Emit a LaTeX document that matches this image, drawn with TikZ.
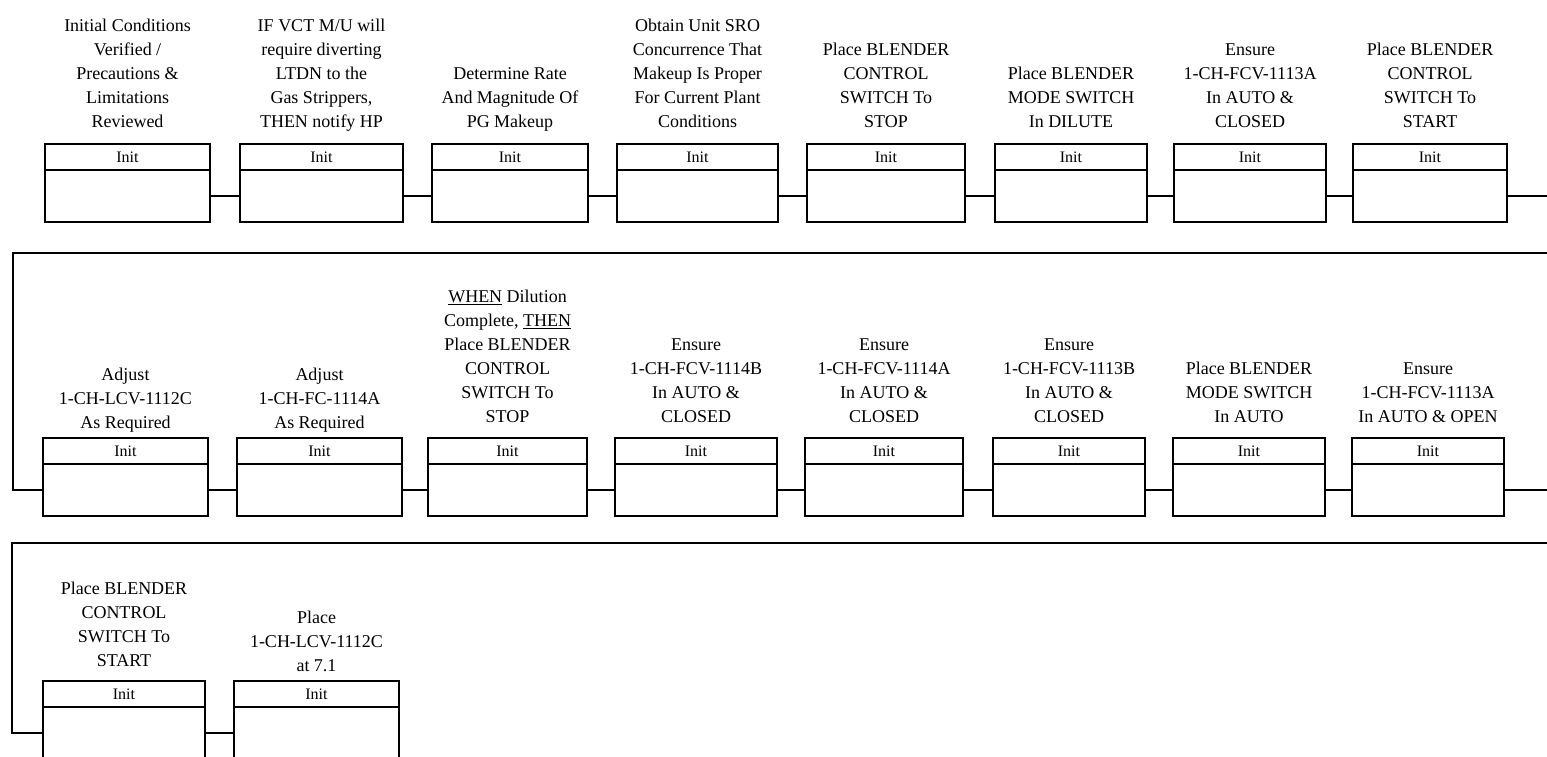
\documentclass[tikz,border=0pt]{standalone}
\usepackage{fontspec}
\setmainfont{Liberation Serif}
\begin{document}
\begin{tikzpicture}[x=1pt,y=-1pt,
  line width=1.8pt,
  boxn/.style={draw, line width=1.8pt, minimum height=78pt, inner sep=0pt, outer sep=0pt},
  inittxt/.style={font=\fontsize{16}{18}\selectfont, inner sep=0pt},
  lbl/.style={align=center, anchor=south, inner sep=0pt, font=\fontsize{18}{24}\selectfont, execute at end node={\strut}},
  conn/.style={line width=1.8pt}
]
\clip (0,0) rectangle (1547,756);
\fill[white] (0,0) rectangle (1547,756);

\newcommand\pbox[6]{%
  \node[boxn, minimum width=#3pt-#2pt, anchor=north west] (#1) at (#2,#4) {};
  \draw ([yshift=-26pt]#1.north west) -- ([yshift=-26pt]#1.north east);
  \node[inittxt] (#1i) at ([yshift=-13pt]#1.north) {Init};
  \coordinate (#1w) at ([yshift=-52pt]#1.north west);
  \coordinate (#1e) at ([yshift=-52pt]#1.north east);
  \node[lbl] (#1t) at ({(#2+#3)/2},#5) {#6};
}

% Row 1
\pbox{a1}{45}{210}{144}{136}{Initial Conditions\\Verified /\\Precautions \&\\Limitations\\Reviewed}
\pbox{a2}{240}{403}{144}{136}{IF VCT M/U will\\require diverting\\LTDN to the\\Gas Strippers,\\THEN notify HP}
\pbox{a3}{432}{588}{144}{136}{Determine Rate\\And Magnitude Of\\PG Makeup}
\pbox{a4}{617}{778}{144}{136}{Obtain Unit SRO\\Concurrence That\\Makeup Is Proper\\For Current Plant\\Conditions}
\pbox{a5}{807}{965}{144}{136}{Place BLENDER\\CONTROL\\SWITCH To\\STOP}
\pbox{a6}{995}{1147}{144}{136}{Place BLENDER\\MODE SWITCH\\In DILUTE}
\pbox{a7}{1174}{1326}{144}{136}{Ensure\\1-CH-FCV-1113A\\In AUTO \&\\CLOSED}
\pbox{a8}{1353}{1507}{144}{136}{Place BLENDER\\CONTROL\\SWITCH To\\START}

% Row 2
\pbox{b1}{43}{208}{438}{437}{Adjust\\1-CH-LCV-1112C\\As Required}
\pbox{b2}{237}{402}{438}{437}{Adjust\\1-CH-FC-1114A\\As Required}
\pbox{b3}{428}{587}{438}{431}{\underline{WHEN} Dilution\\Complete, \underline{THEN}\\Place BLENDER\\CONTROL\\SWITCH To\\STOP}
\pbox{b4}{615}{777}{438}{431}{Ensure\\1-CH-FCV-1114B\\In AUTO \&\\CLOSED}
\pbox{b5}{805}{963}{438}{431}{Ensure\\1-CH-FCV-1114A\\In AUTO \&\\CLOSED}
\pbox{b6}{993}{1145}{438}{431}{Ensure\\1-CH-FCV-1113B\\In AUTO \&\\CLOSED}
\pbox{b7}{1173}{1325}{438}{431}{Place BLENDER\\MODE SWITCH\\In AUTO}
\pbox{b8}{1352}{1504}{438}{431}{Ensure\\1-CH-FCV-1113A\\In AUTO \& OPEN}

% Row 3
\pbox{c1}{43}{205}{681}{675}{Place BLENDER\\CONTROL\\SWITCH To\\START}
\pbox{c2}{234}{399}{681}{680}{Place\\1-CH-LCV-1112C\\at 7.1}

% connectors row 1
\foreach \p/\q in {a1/a2,a2/a3,a3/a4,a4/a5,a5/a6,a6/a7,a7/a8}
  \draw[conn] (\p e) -- (\q w);
\coordinate (a8out) at (1550,196);
\draw[conn] (a8e) -- (a8out);

% row 2
\coordinate (b0in) at (1550,253);
\coordinate (b0c) at (13,253);
\draw[conn] (b0in) -- (b0c) |- (b1w);
\foreach \p/\q in {b1/b2,b2/b3,b3/b4,b4/b5,b5/b6,b6/b7,b7/b8}
  \draw[conn] (\p e) -- (\q w);
\coordinate (b8out) at (1550,490);
\draw[conn] (b8e) -- (b8out);

% row 3
\coordinate (c0in) at (1550,543);
\coordinate (c0c) at (12,543);
\draw[conn] (c0in) -- (c0c) |- (c1w);
\draw[conn] (c1e) -- (c2w);
\end{tikzpicture}
\end{document}
